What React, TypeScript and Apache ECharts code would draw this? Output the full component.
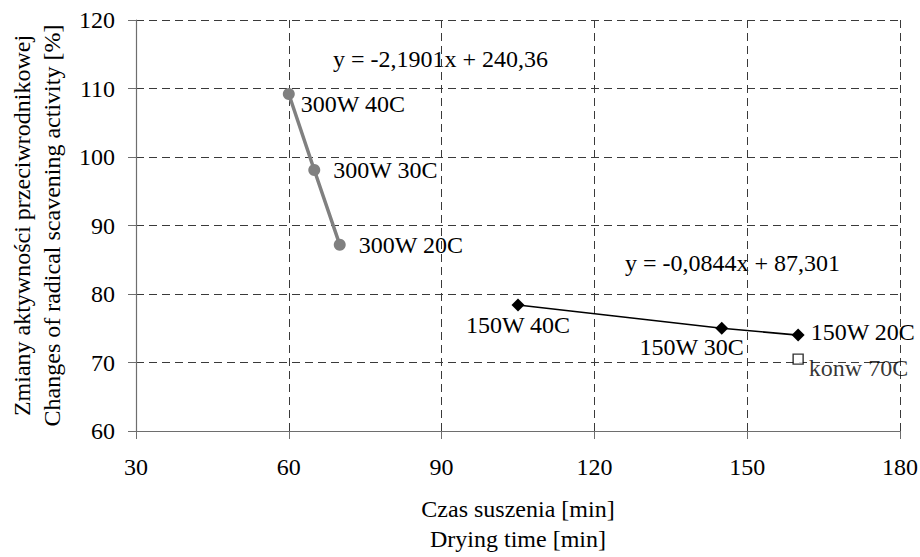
import React, { useEffect, useRef } from "react";
import * as echarts from "echarts";

const xTicks = [30, 60, 90, 120, 150, 180];
const yTicks = [60, 70, 80, 90, 100, 110, 120];

const s300Labels = ["300W 40C", "300W 30C", "300W 20C"];
const s300X = [60, 65, 70];
const s300Y = [109.2, 98.1, 87.2];

const s150Labels = ["150W 40C", "150W 30C", "150W 20C"];
const s150X = [105, 145, 160];
const s150Y = [78.4, 75.0, 74.0];

const konwLabels = ["konw 70C"];
const konwX = [160];
const konwY = [70.5];

const eq300 = "y = -2,1901x + 240,36";
const eq150 = "y = -0,0844x + 87,301";

const xTitle = "Czas suszenia [min]\nDrying time [min]";
const yTitle = "Zmiany aktywności przeciwrodnikowej\nChanges of radical scavening activity [%]";

const FONT = "Liberation Serif";
const FS = 24;

export default function App() {
  const ref = useRef<HTMLDivElement>(null);
  useEffect(() => {
    if (!ref.current) return;
    const chart = echarts.init(ref.current, null, { renderer: "svg" });
    const textStyle = { fontFamily: FONT, fontSize: FS, color: "#000" };

    const s300Offsets = [[6, 10], [13, 0], [13, 0]];
    const s150Pos: any[] = [
      { position: "bottom", distance: 2, offset: [0, 0] },
      { position: "bottom", distance: 0, offset: [-30, 0] },
      { position: "right", distance: 6, offset: [0, -3] },
    ];

    const option: any = {
      animation: false,
      backgroundColor: "#fff",
      textStyle: { fontFamily: FONT, fontSize: FS },
      grid: {
        left: 136,
        right: 20,
        top: 20,
        bottom: 126,
        containLabel: false,
        outerBoundsMode: "none",
      },
      xAxis: {
        type: "value",
        min: xTicks[0],
        max: xTicks[xTicks.length - 1],
        interval: 30,
        name: xTitle,
        nameLocation: "middle",
        nameGap: 63,
        nameTextStyle: { ...textStyle, lineHeight: 30 },
        axisLine: { show: true, onZero: false, lineStyle: { color: "#6e6e6e", width: 1.2 } },
        axisTick: { show: true, length: 8, lineStyle: { color: "#6e6e6e" } },
        axisLabel: { ...textStyle, margin: 24 },
        splitLine: { show: true, lineStyle: { color: "#3a3a3a", type: [8, 5], width: 1 } },
      },
      yAxis: {
        type: "value",
        min: yTicks[0],
        max: yTicks[yTicks.length - 1],
        interval: 10,
        name: yTitle,
        nameLocation: "middle",
        nameGap: 69,
        nameRotate: 90,
        nameTextStyle: { ...textStyle, lineHeight: 30 },
        axisLine: { show: true, onZero: false, lineStyle: { color: "#6e6e6e", width: 1.2 } },
        axisTick: { show: true, length: 8, inside: false, lineStyle: { color: "#6e6e6e" } },
        axisLabel: { ...textStyle, margin: 21 },
        splitLine: { show: true, lineStyle: { color: "#3a3a3a", type: [8, 5], width: 1 } },
      },
      graphic: [
        { type: "text", left: 333, top: 47, style: { text: eq300, fontFamily: FONT, fontSize: FS, fill: "#000" } },
        { type: "text", left: 625, top: 251, style: { text: eq150, fontFamily: FONT, fontSize: FS, fill: "#000" } },
      ],
      series: [
        {
          type: "line",
          data: s300X.map((x, i) => ({
            value: [x, s300Y[i]],
            label: {
              show: true,
              formatter: s300Labels[i],
              position: "right",
              distance: 0,
              offset: s300Offsets[i],
              ...textStyle,
            },
          })),
          symbol: "circle",
          symbolSize: 12,
          lineStyle: { color: "#808080", width: 3.5 },
          itemStyle: { color: "#808080" },
        },
        {
          type: "line",
          data: s150X.map((x, i) => ({
            value: [x, s150Y[i]],
            label: {
              show: true,
              formatter: s150Labels[i],
              ...s150Pos[i],
              ...textStyle,
            },
          })),
          symbol: "diamond",
          symbolSize: 13,
          lineStyle: { color: "#000", width: 1.6 },
          itemStyle: { color: "#000" },
        },
        {
          type: "scatter",
          data: konwX.map((x, i) => ({
            value: [x, konwY[i]],
            label: {
              show: true,
              formatter: konwLabels[i],
              position: "right",
              distance: 5,
              offset: [0, 9],
              ...textStyle,
            },
          })),
          symbol: "rect",
          symbolSize: 10,
          itemStyle: { color: "#fff", borderColor: "#000", borderWidth: 1.4 },
        },
      ],
    };
    chart.setOption(option);
    return () => chart.dispose();
  }, []);
  return (
    <div
      ref={ref}
      style={{ position: "fixed", left: 0, top: 0, width: 920, height: 557, background: "#fff" }}
    />
  );
}
